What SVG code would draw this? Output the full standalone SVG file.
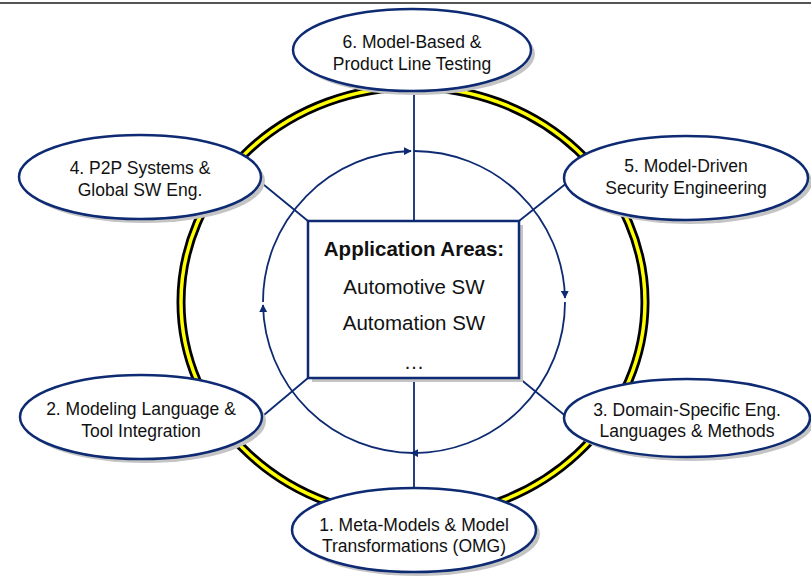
<svg xmlns="http://www.w3.org/2000/svg" width="811" height="576" viewBox="0 0 811 576">
<style>
.ell{fill:#fff;stroke:#0d2a72;stroke-width:2.5}
.shd{fill:#c4c4c4}
.lbl{font-family:"Liberation Sans",Arial,sans-serif;font-size:17.5px;fill:#111;text-anchor:middle}
.ctr{font-family:"Liberation Sans",Arial,sans-serif;font-size:20.5px;fill:#111;text-anchor:middle}
.con{stroke:#0d2a72;stroke-width:1.8;fill:none}
</style>
<defs>
<marker id="ah" viewBox="0 0 10 10" refX="9" refY="5" markerWidth="8" markerHeight="8" markerUnits="userSpaceOnUse" orient="auto">
<path d="M0,0 L10,5 L0,10 z" fill="#0d2a72"/>
</marker>
</defs>
<rect width="811" height="576" fill="#fff"/>
<line x1="0" y1="3" x2="811" y2="3" stroke="#555" stroke-width="2"/>
<g id="ring">
<ellipse cx="413" cy="302" rx="232" ry="215" fill="none" stroke="#000" stroke-width="9"/>
<ellipse cx="413" cy="302" rx="232" ry="215" fill="none" stroke="#ffff00" stroke-width="3.5"/>
</g>
<g id="connectors">
<path class="con" d="M263,302 A151,151 0 0 1 411,151" marker-end="url(#ah)"/>
<path class="con" d="M414,151 A151,151 0 0 1 565,298" marker-end="url(#ah)"/>
<path class="con" d="M565,302 A151,151 0 0 1 411,453" marker-end="url(#ah)"/>
<path class="con" d="M414,453 A151,151 0 0 1 263,305" marker-end="url(#ah)"/>
<line class="con" x1="414" y1="95" x2="414" y2="221"/>
<line class="con" x1="414" y1="378" x2="414" y2="488"/>
<line class="con" x1="308" y1="221" x2="258" y2="180"/>
<line class="con" x1="519" y1="221" x2="568" y2="182"/>
<line class="con" x1="308" y1="378" x2="258" y2="420"/>
<line class="con" x1="519" y1="378" x2="568" y2="418"/>
</g>
<g id="center">
<rect x="312" y="225" width="211" height="157" fill="#c4c4c4"/>
<rect x="308" y="221" width="211" height="157" fill="#fff" stroke="#0d2a72" stroke-width="2.5"/>
<text class="ctr" x="414" y="256" font-weight="bold">Application Areas:</text>
<text class="ctr" x="414" y="294">Automotive SW</text>
<text class="ctr" x="414" y="330">Automation SW</text>
<text class="ctr" x="414" y="369">…</text>
</g>
<g id="n6">
<ellipse class="shd" cx="416" cy="54" rx="119" ry="41"/>
<ellipse class="ell" cx="412" cy="50" rx="119" ry="41"/>
<text class="lbl" x="412" y="48">6. Model-Based &amp;</text>
<text class="lbl" x="412" y="70">Product Line Testing</text>
</g>
<g id="n4">
<ellipse class="shd" cx="144" cy="181" rx="121" ry="42"/>
<ellipse class="ell" cx="140" cy="177" rx="121" ry="42"/>
<text class="lbl" x="140" y="174">4. P2P Systems &amp;</text>
<text class="lbl" x="140" y="196">Global SW Eng.</text>
</g>
<g id="n5">
<ellipse class="shd" cx="690" cy="182" rx="122" ry="42"/>
<ellipse class="ell" cx="686" cy="178" rx="122" ry="42"/>
<text class="lbl" x="686" y="172">5. Model-Driven</text>
<text class="lbl" x="686" y="194">Security Engineering</text>
</g>
<g id="n2">
<ellipse class="shd" cx="145" cy="421" rx="121" ry="42"/>
<ellipse class="ell" cx="141" cy="417" rx="121" ry="42"/>
<text class="lbl" x="141" y="415">2. Modeling Language &amp;</text>
<text class="lbl" x="141" y="437">Tool Integration</text>
</g>
<g id="n3">
<ellipse class="shd" cx="691" cy="422" rx="123" ry="39"/>
<ellipse class="ell" cx="687" cy="418" rx="123" ry="39"/>
<text class="lbl" x="687" y="416">3. Domain-Specific Eng.</text>
<text class="lbl" x="687" y="437">Languages &amp; Methods</text>
</g>
<g id="n1">
<ellipse class="shd" cx="418" cy="534" rx="122" ry="42"/>
<ellipse class="ell" cx="414" cy="530" rx="122" ry="42"/>
<text class="lbl" x="414" y="531">1. Meta-Models &amp; Model</text>
<text class="lbl" x="414" y="552">Transformations (OMG)</text>
</g>
</svg>
